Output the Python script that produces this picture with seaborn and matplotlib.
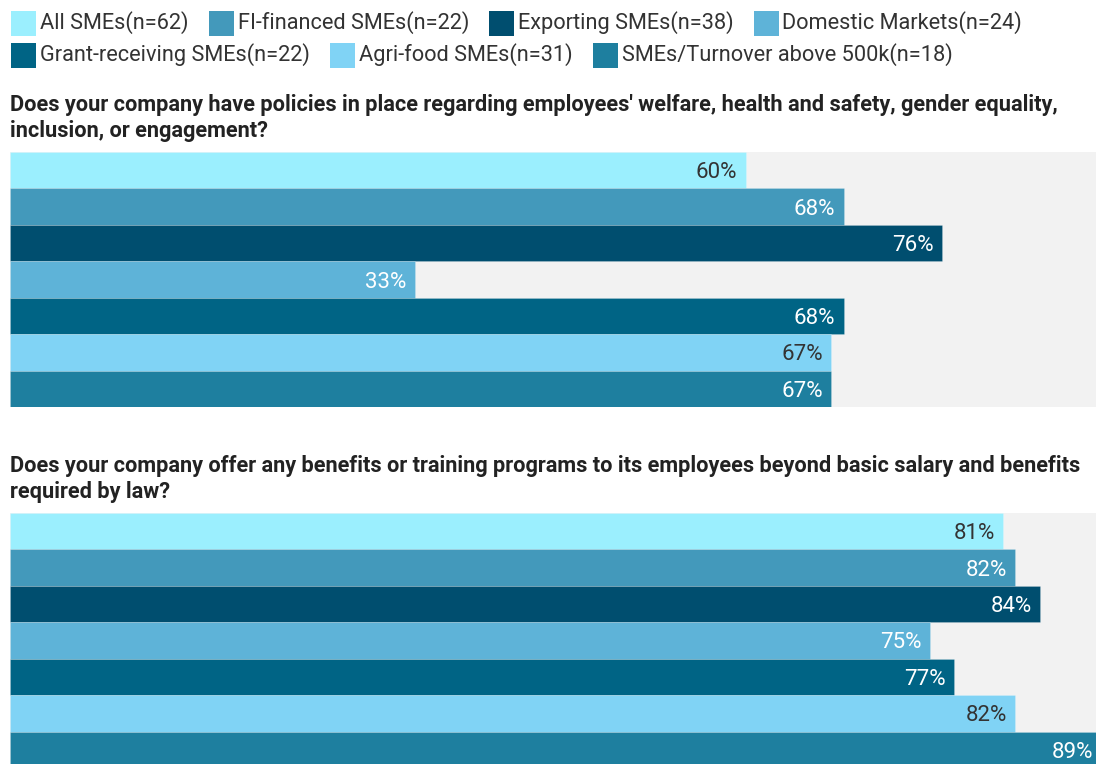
import matplotlib
matplotlib.use("Agg")
import matplotlib.pyplot as plt
from matplotlib.patches import Rectangle
import pandas as pd
import seaborn as sns

groups = [
    "All SMEs(n=62)",
    "FI-financed SMEs(n=22)",
    "Exporting SMEs(n=38)",
    "Domestic Markets(n=24)",
    "Grant-receiving SMEs(n=22)",
    "Agri-food SMEs(n=31)",
    "SMEs/Turnover above 500k(n=18)",
]
colors = ["#9beffe", "#4399bb", "#004e6f", "#5eb3d8", "#006485", "#80d3f5", "#1e7f9f"]
label_colors = ["#333333", "white", "white", "white", "white", "#333333", "white"]

q1_title = [
    "Does your company have policies in place regarding employees' welfare, health and safety, gender equality,",
    "inclusion, or engagement?",
]
q1_values = [60, 68, 76, 33, 68, 67, 67]

q2_title = [
    "Does your company offer any benefits or training programs to its employees beyond basic salary and benefits",
    "required by law?",
]
q2_values = [81, 82, 84, 75, 77, 82, 89]

sns.set_theme(style="white")
plt.rcParams["font.family"] = ["Roboto", "DejaVu Sans"]

W, H = 1096, 764
fig = plt.figure(figsize=(W / 100, H / 100), dpi=100)
fig.patch.set_facecolor("white")


def px_box(x0, y_top, w, h):
    return [x0 / W, 1 - (y_top + h) / H, w / W, h / H]


def draw_panel(ax, values):
    df = pd.DataFrame({"group": groups, "value": values})
    sns.barplot(data=df, x="value", y="group", hue="group", order=groups,
                hue_order=groups, palette=colors, saturation=1, width=1.0,
                legend=False, edgecolor=(1, 1, 1, 0.25), linewidth=0.5, ax=ax)
    ax.set_xlim(0, 100)
    ax.set_facecolor("#f2f2f2")
    for s in ax.spines.values():
        s.set_visible(False)
    ax.set_xticks([])
    ax.set_yticks([])
    ax.set_xlabel("")
    ax.set_ylabel("")
    ax.set_ylim(len(groups) - 0.5, -0.5)
    for cont, val, lc in zip(ax.containers, values, label_colors):
        for bar in cont:
            ax.annotate(f"{val}%", (bar.get_width(), bar.get_y() + bar.get_height() / 2),
                        xytext=(-6, 0), textcoords="offset points",
                        ha="right", va="center_baseline", fontsize=16, color=lc)


bar_w = 1226
ax1 = fig.add_axes(px_box(10, 152, bar_w, 255))
draw_panel(ax1, q1_values)
ax2 = fig.add_axes(px_box(10, 513, bar_w, 255))
draw_panel(ax2, q2_values)

title_kw = dict(fontsize=15.7, fontweight="bold", color="#222222", ha="left", va="center")
for i, line in enumerate(q1_title):
    fig.text(10 / W, 1 - (105 + 26 * i) / H, line, **title_kw)
for i, line in enumerate(q2_title):
    fig.text(10 / W, 1 - (466 + 26 * i) / H, line, **title_kw)

# Legend laid out as a flowing row of swatches and labels
fig.canvas.draw()
renderer = fig.canvas.get_renderer()
rows = [groups[:4], groups[4:]]
row_centers = [23, 55]
sq = 25
idx = 0
for row, yc in zip(rows, row_centers):
    x = 11
    for name in row:
        fig.patches.append(Rectangle((x / W, 1 - (yc + sq / 2) / H), sq / W, sq / H,
                                     transform=fig.transFigure, facecolor=colors[idx],
                                     edgecolor="none"))
        t = fig.text((x + sq + 4) / W, 1 - yc / H, name, fontsize=15.7,
                     color="#333333", ha="left", va="center")
        bb = t.get_window_extent(renderer)
        x = bb.x1 + 20
        idx += 1

fig.savefig("out.png", dpi=100, facecolor="white")
